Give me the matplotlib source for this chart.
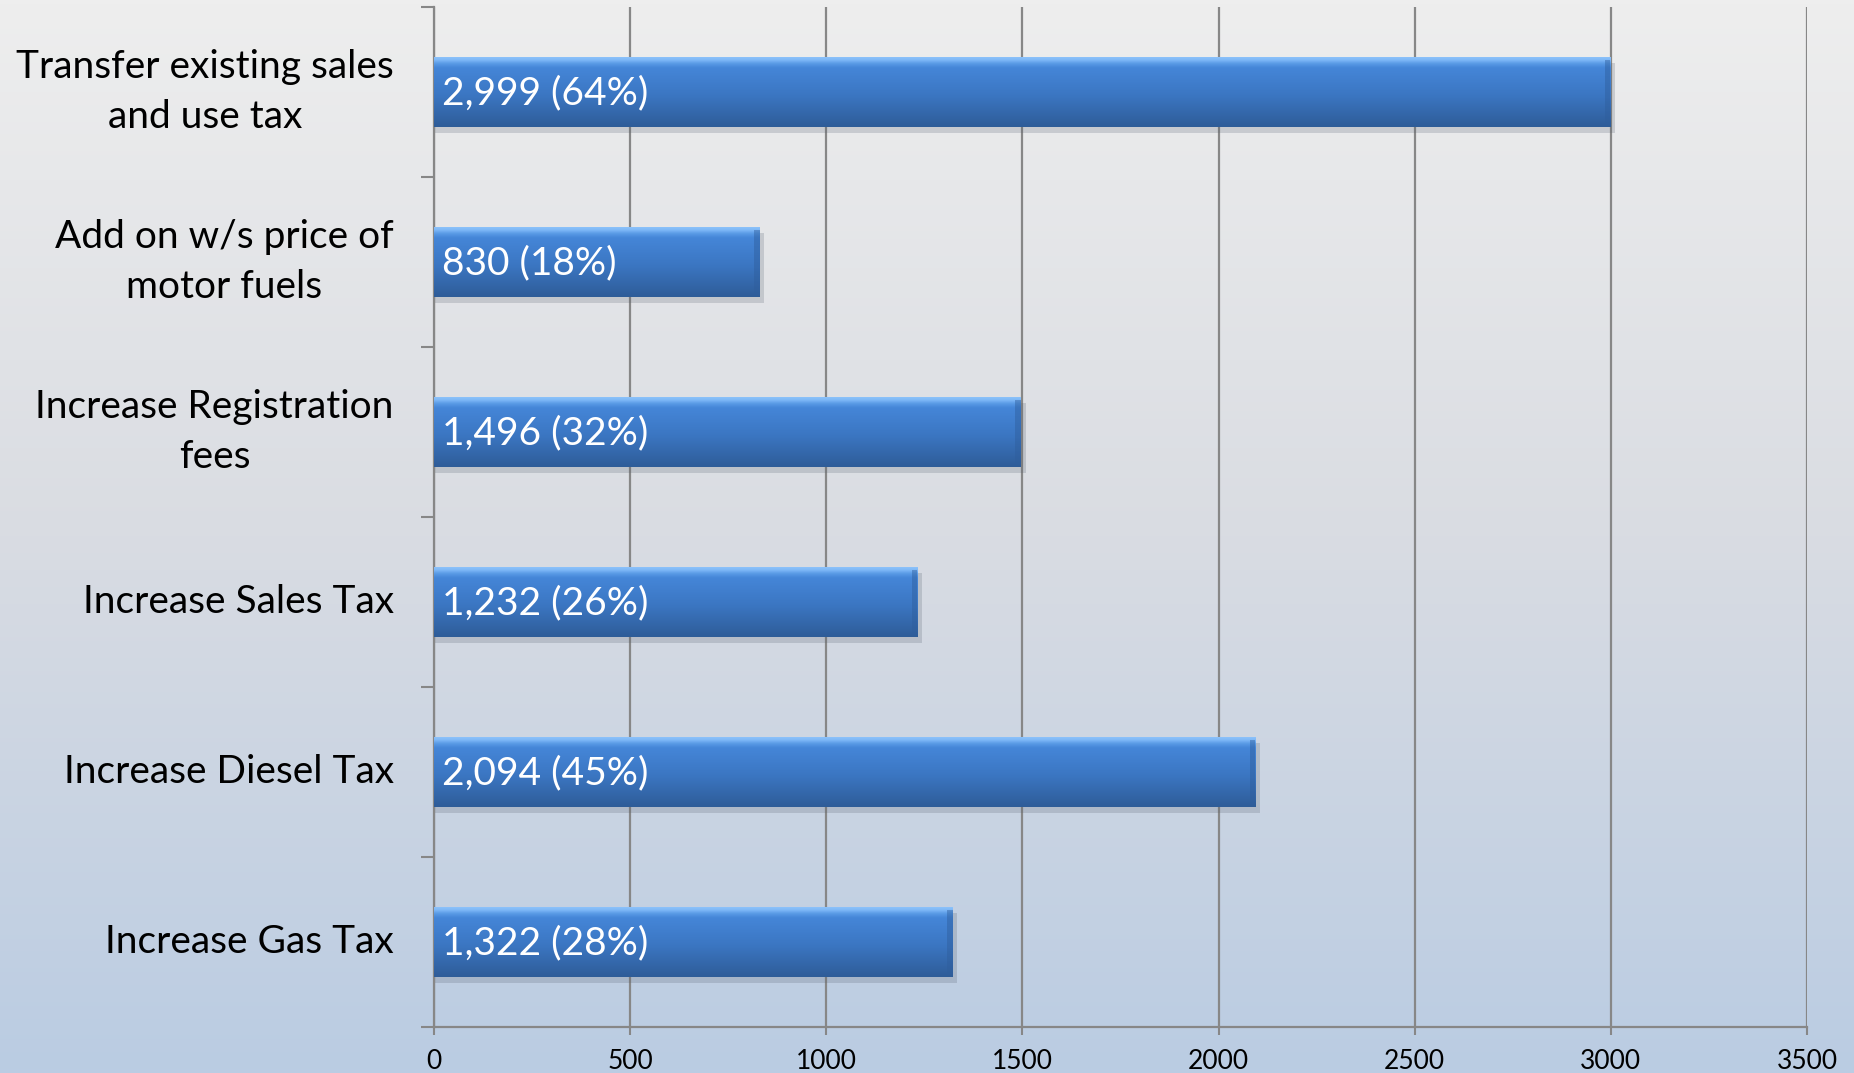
import numpy as np
import matplotlib
matplotlib.use('Agg')
import matplotlib.pyplot as plt
from matplotlib.colors import LinearSegmentedColormap

categories = ["Increase Gas Tax", "Increase Diesel Tax", "Increase Sales Tax",
              "Increase Registration\nfees", "Add on w/s price of\nmotor fuels",
              "Transfer existing sales\nand use tax"]
values = [1322, 2094, 1232, 1496, 830, 2999]
percents = [28, 45, 26, 32, 18, 64]
xticks = [0, 500, 1000, 1500, 2000, 2500, 3000, 3500]

FONT = ['Lato', 'DejaVu Sans']
plt.rcParams['font.family'] = FONT

W, H = 1854, 1073
fig = plt.figure(figsize=(W / 100, H / 100), dpi=100)

# background gradient
bg = fig.add_axes([0, 0, 1, 1])
bg.axis('off')
grad = np.linspace(0, 1, 256).reshape(-1, 1)
bg_cmap = LinearSegmentedColormap.from_list('bg', ['#EEEEEE', '#D9DCE2', '#BACCE3'])
bg.imshow(grad, aspect='auto', cmap=bg_cmap, extent=[0, 1, 0, 1], origin='upper')

x0, x1 = 434, 1807
y_top, y_bot = 7, 1027
ax = fig.add_axes([x0 / W, 1 - y_bot / H, (x1 - x0) / W, (y_bot - y_top) / H])
ax.patch.set_alpha(0)

bar_h = 0.41
bar_cmap = LinearSegmentedColormap.from_list(
    'bar', [(0.0, '#2E5C98'), (0.12, '#3263A3'), (0.45, '#3B76C2'),
            (0.85, '#4586D8'), (0.91, '#5A9BE6'), (0.96, '#7FB8F7'), (1.0, '#8CC2FA')])
bgrad = np.linspace(0, 1, 256).reshape(-1, 1)

ypos = np.arange(len(categories))
for y, v, p in zip(ypos, values, percents):
    # shadow
    ax.barh(y - 0.035, v + 12, height=bar_h, left=0, color='#55606E', alpha=0.22,
            edgecolor='none', zorder=2)
    # gradient bar
    ax.imshow(bgrad, extent=[0, v, y - bar_h / 2, y + bar_h / 2], origin='lower',
              cmap=bar_cmap, aspect='auto', zorder=3, interpolation='bilinear')
    # right bevel
    ax.barh(y, 14, left=v - 14, height=bar_h * 0.92, color='#2F5E9C',
            alpha=0.45, edgecolor='none', zorder=4)
    ax.annotate(f"{v:,} ({p}%)", xy=(0, y), xytext=(6, -1), textcoords='offset points',
                va='center', ha='left', color='white', fontsize=28, zorder=5)

ax.set_xlim(0, 3500)
ax.set_ylim(-0.5, len(categories) - 0.5)

ax.set_xticks(xticks)
ax.set_xticklabels([str(t) for t in xticks], fontsize=19)
ax.grid(axis='x', color='#878787', linewidth=1.6, zorder=1)
ax.set_axisbelow(True)

ax.set_yticks(ypos)
ax.set_yticklabels(categories, fontsize=28, multialignment='center', linespacing=1.45,
                   va='center')
ax.set_yticks(np.arange(-0.5, len(categories)), minor=True)
ax.tick_params(axis='y', which='major', length=0, pad=29)
ax.tick_params(axis='y', which='minor', length=9.5, width=1.5, color='#878787')
ax.tick_params(axis='x', which='major', length=6, width=1.5, color='#878787', pad=10)

for s in ['top', 'right']:
    ax.spines[s].set_visible(False)
for s in ['left', 'bottom']:
    ax.spines[s].set_color('#878787')
    ax.spines[s].set_linewidth(1.6)

fig.savefig('out.png', dpi=100)
